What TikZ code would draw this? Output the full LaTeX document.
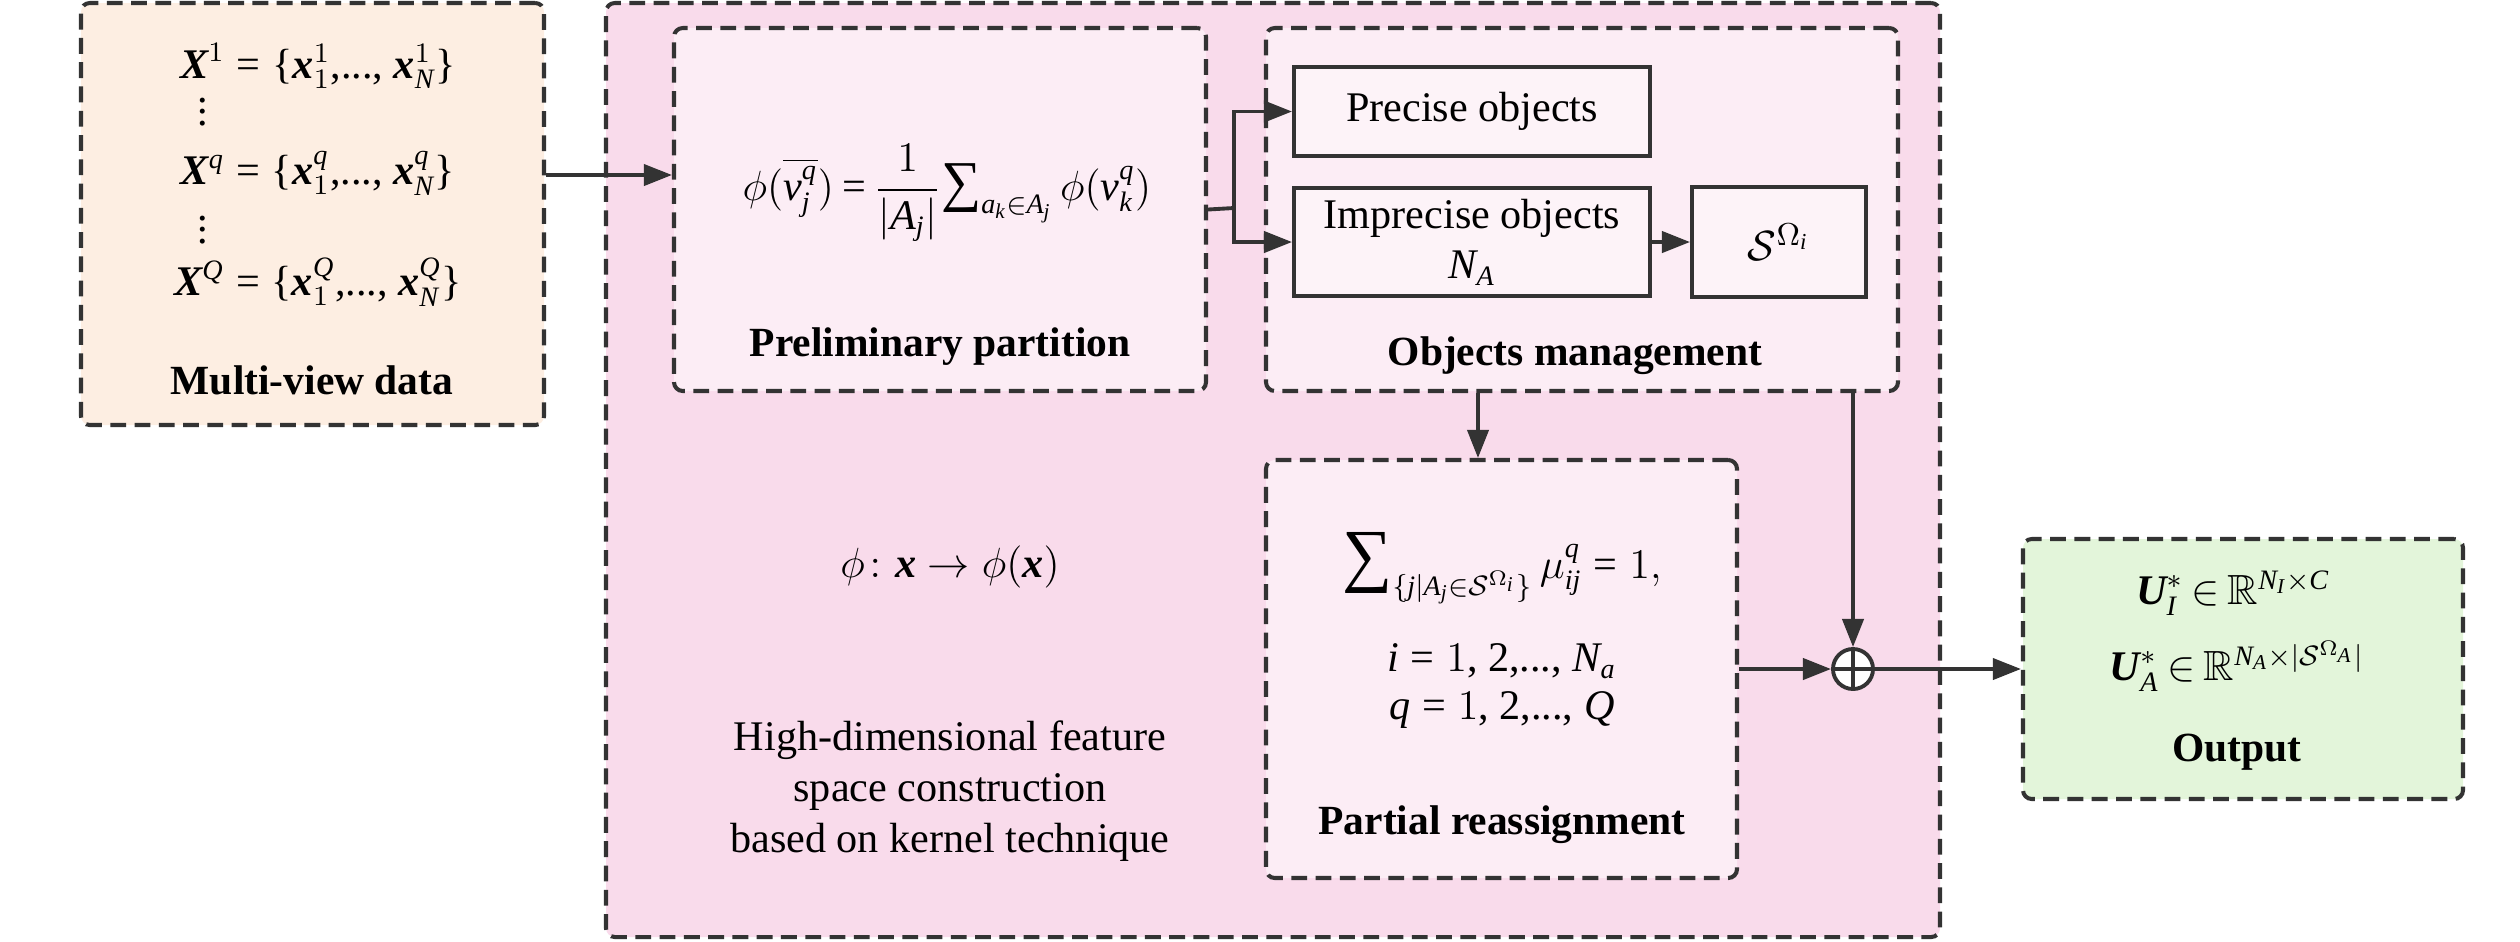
\documentclass[tikz,border=0pt]{standalone}
\usepackage{amsmath}
\usepackage{amssymb}
\usepackage{fontspec}
\setmainfont{Liberation Serif}
\usetikzlibrary{fit,arrows.meta,calc}
\definecolor{lc}{HTML}{333333}
\definecolor{peach}{HTML}{FDEEE2}
\definecolor{pinkbg}{HTML}{F9DBEB}
\definecolor{pinkin}{HTML}{FCEDF5}
\definecolor{pinkbox}{HTML}{FDF3F8}
\definecolor{greenbg}{HTML}{E3F5DA}
\newcommand\bx[1]{\text{\bfseries\itshape #1}}
\newcommand\mi[1]{\mathit{#1}}
\newcommand\eq{\mathrel{\text{=}}}
\newcommand\lbr{\mathopen{\text{\{}}}
\newcommand\rbr{\mathclose{\text{\}}}}
\newcommand\tsum[1]{\mathop{\text{\fontsize{#1}{#1}\selectfont ∑}}\nolimits}
\newcommand\vdts{\vbox{\baselineskip=3.2pt\lineskiplimit=-5pt\hbox{.}\hbox{.}\hbox{.}}}
\begin{document}
\begin{tikzpicture}[x=0.01cm,y=-0.01cm,
  every node/.style={font=\fontsize{12}{14.4}\selectfont, text=black, inner sep=0pt},
  dbox/.style={draw=lc, line width=1.15pt, dash pattern=on 4.5pt off 2.4pt, rounded corners=2.5pt, inner sep=0pt},
  sbox/.style={draw=lc, line width=1.1pt, fill=pinkbox, inner sep=0pt},
  arr/.style={draw=lc, line width=1.1pt, -{Triangle[length=8pt,width=6pt]}},
  ln/.style={draw=lc, line width=1.1pt},
  title/.style={font=\fontsize{11.8}{14}\selectfont\bfseries},
  tight/.style={execute at begin node={\thickmuskip=3.5mu\medmuskip=2.5mu}},
  ]
\useasboundingbox (0,0) rectangle (2520,941);
% boxes
\node[dbox, fill=peach, fit={(81,3)(544,425)}] (mv) {};
\node[dbox, fill=pinkbg, fit={(606,3)(1940,937)}] (big) {};
\node[dbox, fill=pinkin, fit={(674,28)(1206,391)}] (pp) {};
\node[dbox, fill=pinkin, fit={(1266,28)(1898,391)}] (om) {};
\node[sbox, fit={(1294,67)(1650,156)}] (po) {};
\node[sbox, fit={(1294,188)(1650,296)}] (io) {};
\node[sbox, fit={(1692,187)(1866,297)}] (sb) {};
\node[dbox, fill=pinkin, fit={(1266,460)(1737,878)}] (pr) {};
\node[dbox, fill=greenbg, fit={(2023,539)(2463,799)}] (out) {};
\node[circle, draw=lc, line width=1.1pt, fill=white, minimum size=0.4cm, inner sep=0pt] (cp) at (1853,669) {};
\draw[ln] (cp.north) -- (cp.south);
\draw[ln] (cp.west) -- (cp.east);
% multi-view texts
\node (mv1) at (318,66) {$\bx{X}^{1}\eq\lbr\bx{x}^{1}_{1}\text{,...,}\ \bx{x}^{1}_{\mi{N}}\rbr$};
\node (mvd1) at (203,112) {\vdts};
\node (mvq) at (318,173) {$\bx{X}^{\mi{q}}\eq\lbr\bx{x}^{\mi{q}}_{1}\text{,...,}\ \bx{x}^{\mi{q}}_{\mi{N}}\rbr$};
\node (mvd2) at (203,230) {\vdts};
\node (mvQ) at (318,282) {$\bx{X}^{\mi{Q}}\eq\lbr\bx{x}^{\mi{Q}}_{1}\text{,...,}\ \bx{x}^{\mi{Q}}_{\mi{N}}\rbr$};
\node[title] (mvt) at (312,380) {Multi-view data};
% preliminary partition
\node[tight] (ppf) at (947,193) {$\phi(\overline{\mi{v}^{\mi{q}}_{\mi{j}}})\eq\dfrac{1}{|\mi{A_j}|}\!\tsum{16}_{\mi{a_k}\in\mi{A_j}}\phi(\mi{v}^{\mi{q}}_{\mi{k}})$};
\node[title] (ppt) at (940,347) {Preliminary partition};
% objects management
\node (pot) at (po) {Precise objects};
\node[align=center] (iot) at (io) {Imprecise objects\\$\mi{N_A}$};
\node (sbt) at (sb) {\fontsize{13}{14}\selectfont$\mathcal{S}^{\Omega_{\mi{i}}}$};
\node[title] (omt) at (1575,356) {Objects management};
% partial reassignment
\node (prf) at (1502,568) {$\tsum{20}_{\{\mi{j}|\mi{A_j}\in\mathcal{S}^{\Omega_{\mi{i}}}\}}\mu^{\mi{q}}_{\mi{ij}}\eq1,$};
\node (pri) at (1502,661) {$\mi{i}\eq1\text{, 2,..., }\mi{N_a}$};
\node (prq) at (1502,710) {$\mi{q}\eq1\text{, 2,..., }\mi{Q}$};
\node[title] (prt) at (1502,825) {Partial reassignment};
% left texts
\node (phi) at (950,567) {$\phi\colon\bx{x}\rightarrow\phi(\bx{x})$};
\node[align=center] (hd) at (950,791) {High-dimensional feature\\space construction\\based on kernel technique};
% output
\node[tight] (ou1) at (2233,593) {$\bx{U}^{*}_{\mi{I}}\in\mathbb{R}^{\mi{N_I}\times\mi{C}}$};
\node[tight] (ou2) at (2237,666) {$\bx{U}^{*}_{\mi{A}}\in\mathbb{R}^{\mi{N_A}\times|\mathcal{S}^{\Omega_{\mi{A}}}|}$};
\node[title] (outt) at (2237,752) {Output};
% connectors
\coordinate (inY) at (0,175);
\draw[arr] (mv.east |- inY) -- (pp.west |- inY);
\coordinate (br) at (1234,208);
\draw[ln] (pp.east) -- (br);
\draw[arr] (br) |- (po.west);
\draw[arr] (br) |- (io.west);
\draw[arr] (io.east) -- (sb.west);
\coordinate (dn) at (1478,0);
\draw[arr] (om.south -| dn) -- (pr.north -| dn);
\draw[arr] (om.south -| cp) -- (cp.north);
\draw[arr] (pr.east) -- (cp.west);
\draw[arr] (cp.east) -- (out.west);
\end{tikzpicture}
\end{document}
